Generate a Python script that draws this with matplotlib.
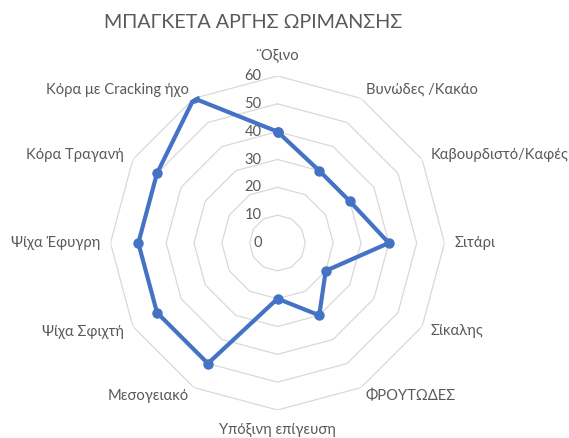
import numpy as np
import matplotlib
matplotlib.use("Agg")
import matplotlib.pyplot as plt

plt.rcParams['font.family'] = ['Lato', 'DejaVu Sans']

title = "ΜΠΑΓΚΕΤΑ ΑΡΓΗΣ ΩΡΙΜΑΝΣΗΣ"
categories = ["¨Οξινο", "Βυνώδες /Κακάο", "Καβουρδιστό/Καφές", "Σιτάρι", "Σίκαλης",
              "ΦΡΟΥΤΩΔΕΣ", "Υπόξινη επίγευση", "Μεσογειακό", "Ψίχα Σφιχτή",
              "Ψίχα Έφυγρη", "Κόρα Τραγανή", "Κόρα με Cracking ήχο"]
values = [40, 30, 30, 40, 20, 30, 20, 50, 50, 50, 50, 60]
rticks = [0, 10, 20, 30, 40, 50, 60]

TEXT = "#595959"
GRID = "#D9D9D9"
LINE = "#4472C4"

W, H = 569, 438
fig = plt.figure(figsize=(W / 100, H / 100), dpi=100)
cx, cy, R = 277.5, 243, 167
ax = fig.add_axes([(cx - R) / W, (H - cy - R) / H, 2 * R / W, 2 * R / H], projection='polar')
ax.set_theta_zero_location('N')
ax.set_theta_direction(-1)
ax.set_ylim(0, rticks[-1])
ax.grid(False)
ax.spines['polar'].set_visible(False)
ax.set_xticks([])
ax.set_yticks([])
ax.patch.set_alpha(0)

n = len(categories)
theta = np.arange(n) * 2 * np.pi / n
theta_c = np.append(theta, theta[0])

for r in rticks[1:]:
    ax.plot(theta_c, [r] * (n + 1), color=GRID, lw=0.9, zorder=1)

for r in rticks:
    ax.annotate(str(r), xy=(0, r), xytext=(-16, 0), textcoords='offset pixels',
                ha='right', va='center', fontsize=10.5, color=TEXT)

vals_c = values + values[:1]
ax.plot(theta_c, vals_c, color=LINE, lw=3, marker='o', markersize=6.5,
        zorder=3, solid_joinstyle='round')

d = 10
for t, lab in zip(theta, categories):
    s, c = np.sin(t), np.cos(t)
    if abs(s) < 1e-6:
        ha = 'center'
    elif s > 0:
        ha = 'left'
    else:
        ha = 'right'
    if c > 0.9:
        va = 'bottom'
        off = (0, 13)
    elif c < -0.9:
        va = 'top'
        off = (0, -13)
    else:
        va = 'center'
        off = (d * s, d * c)
    ax.annotate(lab, xy=(t, rticks[-1]), xytext=off, textcoords='offset pixels',
                ha=ha, va=va, fontsize=10.6, color=TEXT, annotation_clip=False)

fig.text(253 / W, 1 - 23 / H, title, ha='center', va='center', fontsize=14.2, color=TEXT)

fig.savefig("out.png", dpi=100)
